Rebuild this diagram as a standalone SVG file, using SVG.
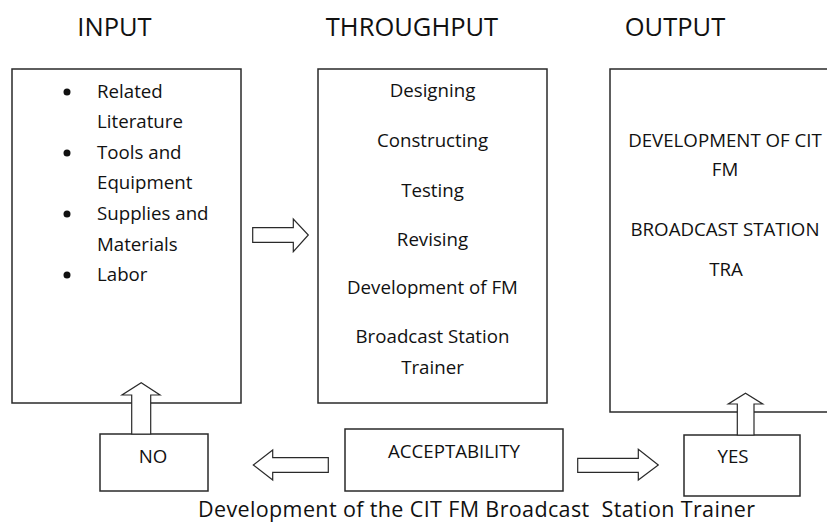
<svg xmlns="http://www.w3.org/2000/svg" width="827" height="523" viewBox="0 0 827 523">
<style>
text{font-family:"Open Sans","Liberation Sans",sans-serif;fill:#111}
.h{font-size:25.5px;text-anchor:middle}
.b{font-size:18.7px}
.c{text-anchor:middle}
.box{fill:#fff;stroke:#2a2a2a;stroke-width:1.5}
.arr{fill:#fff;stroke:#2a2a2a;stroke-width:1.2;stroke-linejoin:miter}
.cap{font-size:21.5px}
</style>
<rect width="827" height="523" fill="#fff"/>
<g id="headings">
<text class="h" x="114.5" y="36">INPUT</text>
<text class="h" x="412" y="36">THROUGHPUT</text>
<text class="h" x="675" y="36">OUTPUT</text>
</g>
<g id="input">
<rect class="box" x="12" y="69" width="229" height="334"/>
<circle cx="67" cy="92" r="3.5" fill="#111"/>
<circle cx="67" cy="153" r="3.5" fill="#111"/>
<circle cx="67" cy="214" r="3.5" fill="#111"/>
<circle cx="67" cy="275" r="3.5" fill="#111"/>
<text class="b" x="97" y="98">Related</text>
<text class="b" x="97" y="128">Literature</text>
<text class="b" x="97" y="159">Tools and</text>
<text class="b" x="97" y="189">Equipment</text>
<text class="b" x="97" y="220">Supplies and</text>
<text class="b" x="97" y="251">Materials</text>
<text class="b" x="97" y="281">Labor</text>
</g>
<g id="throughput">
<rect class="box" x="318" y="69" width="229" height="334"/>
<text class="b c" x="432.5" y="97">Designing</text>
<text class="b c" x="432.5" y="147">Constructing</text>
<text class="b c" x="432.5" y="197">Testing</text>
<text class="b c" x="432.5" y="245.5">Revising</text>
<text class="b c" x="432.5" y="294">Development of FM</text>
<text class="b c" x="432.5" y="343">Broadcast Station</text>
<text class="b c" x="432.5" y="374">Trainer</text>
</g>
<g id="output">
<rect class="box" x="610" y="69" width="240" height="343"/>
<text class="b c" x="725" y="147">DEVELOPMENT OF CIT</text>
<text class="b c" x="725" y="176">FM</text>
<text class="b c" x="725" y="235.5">BROADCAST STATION</text>
<text class="b c" x="726" y="275.5">TRA</text>
</g>
<g id="no">
<rect class="box" x="100" y="434" width="108" height="57"/>
<text class="b c" x="153" y="463">NO</text>
</g>
<g id="acceptability">
<rect class="box" x="345" y="429" width="218" height="62"/>
<text class="b c" x="454" y="458">ACCEPTABILITY</text>
</g>
<g id="yes">
<rect class="box" x="684" y="435" width="116" height="61"/>
<text class="b c" x="733" y="463">YES</text>
</g>
<g id="connectors">
<path class="arr" d="M252.7,227.7 H293.3 V219 L308.3,235 L293.3,251.7 V242.3 H252.7 Z"/>
<path class="arr" d="M131.7,434 V395 H122 L141.2,382.7 L160,395 H150.7 V434 Z"/>
<path class="arr" d="M328.3,457.7 H272.7 V450 L253.3,465 L272.7,480 V472.3 H328.3 Z"/>
<path class="arr" d="M577.7,458.3 H638.3 V449.3 L658.3,465 L638.3,480 V472.3 H577.7 Z"/>
<path class="arr" d="M737.3,435 V404 H728.3 L745.5,393.3 L762.7,404 H754 V435 Z"/>
</g>
<g id="caption">
<text class="cap" x="198" y="517" xml:space="preserve" textLength="557" lengthAdjust="spacing">Development of the CIT FM Broadcast  Station Trainer</text>
</g>
</svg>
